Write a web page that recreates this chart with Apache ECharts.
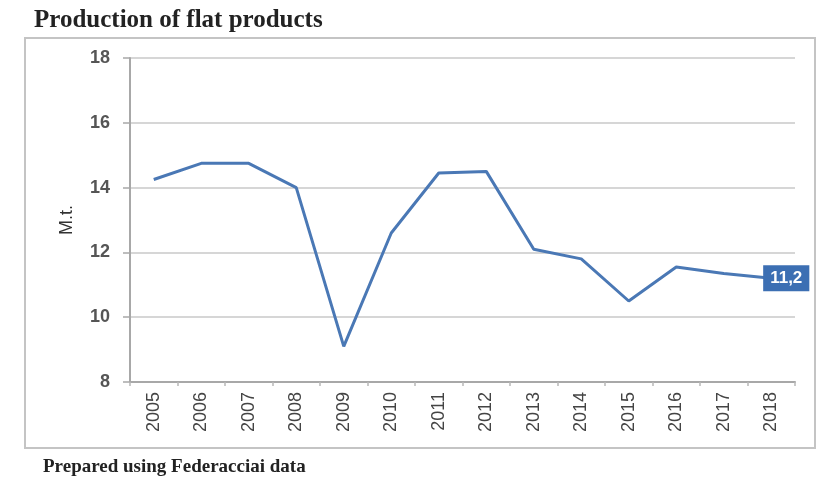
<!DOCTYPE html>
<html>
<head>
<meta charset="utf-8">
<script src="https://cdn.jsdelivr.net/npm/echarts@6/dist/echarts.min.js"></script>
<style>
  html, body { margin: 0; padding: 0; background: #fff; }
  #chart { width: 817px; height: 483px; }
</style>
</head>
<body>
<div id="chart"></div>
<script>
// 年份
var years = ['2005', '2006', '2007', '2008', '2009', '2010', '2011', '2012', '2013', '2014', '2015', '2016', '2017', '2018'];
// 扁平材产量 (M.t.)
var production = [14.25, 14.75, 14.75, 14.0, 9.1, 12.6, 14.45, 14.5, 12.1, 11.8, 10.5, 11.55, 11.35, 11.2];
// 纵轴刻度
var yTicks = [8, 10, 12, 14, 16, 18];

var myChart = echarts.init(document.getElementById('chart'));

var option = {
    animation: false,
    title: [{
        text: 'Production of flat products',
        left: 29,
        top: 3,
        textStyle: { fontFamily: 'Liberation Serif', fontWeight: 'bold', fontSize: 25, color: '#222' }
    }, {
        text: 'Prepared using Federacciai data',
        left: 38,
        top: 453,
        textStyle: { fontFamily: 'Liberation Serif', fontWeight: 'bold', fontSize: 19, color: '#222' }
    }],
    // 外框
    graphic: [{
        type: 'rect',
        shape: { x: 25, y: 38, width: 790, height: 410 },
        style: { fill: 'none', stroke: '#c4c4c4', lineWidth: 2 },
        z: -1
    }],
    grid: { left: 130, right: 22, top: 58, bottom: 101 },
    xAxis: {
        type: 'category',
        data: years,
        boundaryGap: true,
        axisLine: { lineStyle: { color: '#a8a8a8', width: 2 } },
        axisTick: { show: true, length: 4, lineStyle: { color: '#b8b8b8', width: 1.5 } },
        axisLabel: {
            rotate: 90,
            margin: 10,
            color: '#444',
            fontFamily: 'Liberation Sans',
            fontSize: 18
        }
    },
    yAxis: {
        type: 'value',
        min: yTicks[0],
        max: yTicks[yTicks.length - 1],
        interval: 2,
        name: 'M.t.',
        nameLocation: 'middle',
        nameGap: 54,
        nameRotate: 90,
        nameTextStyle: { color: '#333', fontFamily: 'Liberation Sans', fontSize: 18 },
        axisLine: { show: true, lineStyle: { color: '#a8a8a8', width: 2 } },
        axisTick: { show: true, length: 7, lineStyle: { color: '#a8a8a8', width: 1.5 } },
        axisLabel: {
            margin: 20,
            color: '#555',
            fontFamily: 'Liberation Sans',
            fontWeight: 'bold',
            fontSize: 18
        },
        splitLine: { lineStyle: { color: '#c8c8c8', width: 1.5 } }
    },
    series: [{
        type: 'line',
        data: production.map(function (v, i) {
            if (i === production.length - 1) {
                return {
                    value: v,
                    symbol: 'circle',
                    symbolSize: 1,
                    label: {
                        show: true,
                        position: 'inside',
                        offset: [15, 0],
                        formatter: function (p) { return String(p.value).replace('.', ','); },
                        backgroundColor: '#3c6fb3',
                        color: '#fff',
                        fontFamily: 'Liberation Sans',
                        fontWeight: 'bold',
                        fontSize: 17,
                        padding: [5, 7, 4, 7]
                    }
                };
            }
            return { value: v, symbol: 'none' };
        }),
        showSymbol: true,
        lineStyle: { color: '#4a78b5', width: 3 },
        itemStyle: { color: '#4a78b5' }
    }]
};

myChart.setOption(option);
</script>
</body>
</html>
